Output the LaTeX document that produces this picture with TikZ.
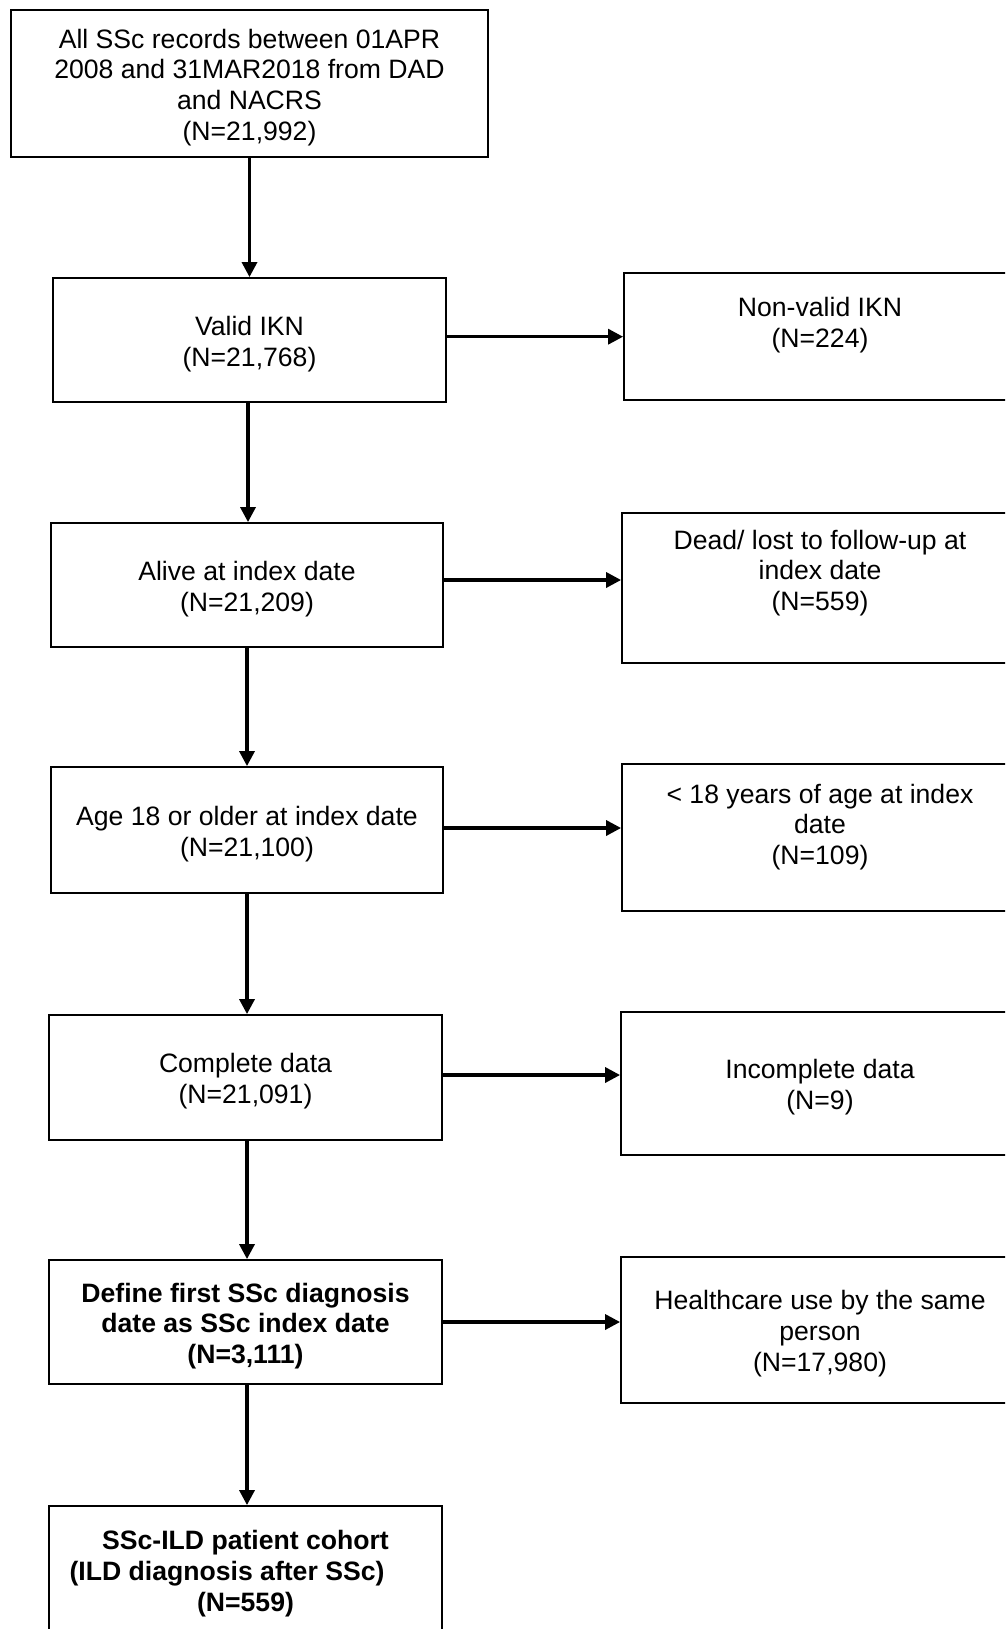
\documentclass[tikz,border=0pt]{standalone}
\usepackage{fontspec}
\setmainfont{Liberation Sans}
\usetikzlibrary{arrows.meta}
\begin{document}
\begin{tikzpicture}[x=1pt,y=-1pt,
  txt/.style={font=\fontsize{26.6}{30.8}\selectfont, align=center},
  box/.style={draw, line width=1.8pt, inner sep=0pt, txt},
  arr/.style={line width=3.3pt, -{Triangle[length=15pt,width=15pt]}}]
\useasboundingbox (0,0) rectangle (1005,1629);
\clip (0,0) rectangle (1005,1629);
% main column
\node[box, minimum width=477pt, minimum height=147pt,
  label={[txt, yshift=-4pt]center:All SSc records between 01APR\\2008 and 31MAR2018 from DAD\\and NACRS\\(N=21,992)}] (B0) at (249.5,83.5) {};
\node[box, minimum width=393pt, minimum height=124pt,
  label={[txt, yshift=-4pt]center:Valid IKN\\(N=21,768)}] (B1) at (249.5,340) {};
\node[box, minimum width=392pt, minimum height=124pt,
  label={[txt, yshift=-4pt]center:Alive at index date\\(N=21,209)}] (B2) at (247,585) {};
\node[box, minimum width=392pt, minimum height=126pt,
  label={[txt, yshift=-4pt]center:Age 18 or older at index date\\(N=21,100)}] (B3) at (247,830) {};
\node[box, minimum width=393pt, minimum height=125pt,
  label={[txt, yshift=-4pt]center:Complete data\\(N=21,091)}] (B4) at (245.5,1077.5) {};
\node[box, minimum width=393pt, minimum height=124pt,
  label={[txt, yshift=-4pt, font=\fontsize{26.6}{30.8}\selectfont\bfseries]center:Define first SSc diagnosis\\date as SSc index date\\(N=3,111)}] (B5) at (245.5,1322) {};
\node[box, minimum width=393pt, minimum height=126pt,
  label={[txt, yshift=-4.5pt, font=\fontsize{26.6}{30.8}\selectfont\bfseries]center:SSc-ILD patient cohort\\(ILD diagnosis after SSc)\hbox to 37pt{}\\(N=559)}] (B6) at (245.5,1569) {};
% exclusion column
\node[box, minimum width=392pt, minimum height=127pt,
  label={[txt, yshift=11.5pt]center:Non-valid IKN\\(N=224)}] (R1) at (820,336.5) {};
\node[box, minimum width=396pt, minimum height=150pt,
  label={[txt, yshift=15pt]center:Dead/ lost to follow-up at\\index date\\(N=559)}] (R2) at (820,588) {};
\node[box, minimum width=396pt, minimum height=147pt,
  label={[txt, yshift=10.5pt]center:< 18 years of age at index\\date\\(N=109)}] (R3) at (820,837.5) {};
\node[box, minimum width=398pt, minimum height=143pt,
  label={[txt, yshift=-3.5pt]center:Incomplete data\\(N=9)}] (R4) at (820,1083.5) {};
\node[box, minimum width=398pt, minimum height=146pt,
  label={[txt, yshift=-3.5pt]center:Healthcare use by the same\\person\\(N=17,980)}] (R5) at (820,1330) {};
% vertical arrows
\draw[arr] (B0.south) -- (B0.south |- B1.north);
\draw[arr] ([xshift=-1.5pt]B1.south) -- ([xshift=-1.5pt]B1.south |- B2.north);
\draw[arr] (B2.south) -- (B2.south |- B3.north);
\draw[arr] (B3.south) -- (B3.south |- B4.north);
\draw[arr] ([xshift=1.5pt]B4.south) -- ([xshift=1.5pt]B4.south |- B5.north);
\draw[arr] ([xshift=1.5pt]B5.south) -- ([xshift=1.5pt]B5.south |- B6.north);
% horizontal arrows
\draw[arr] ([yshift=3.3pt]B1.east) -- ([yshift=3.3pt]B1.east -| R1.west);
\draw[arr] ([yshift=5pt]B2.east) -- ([yshift=5pt]B2.east -| R2.west);
\draw[arr] ([yshift=2pt]B3.east) -- ([yshift=2pt]B3.east -| R3.west);
\draw[arr] ([yshift=2.5pt]B4.east) -- ([yshift=2.5pt]B4.east -| R4.west);
\draw[arr] (B5.east) -- (B5.east -| R5.west);
\end{tikzpicture}
\end{document}
